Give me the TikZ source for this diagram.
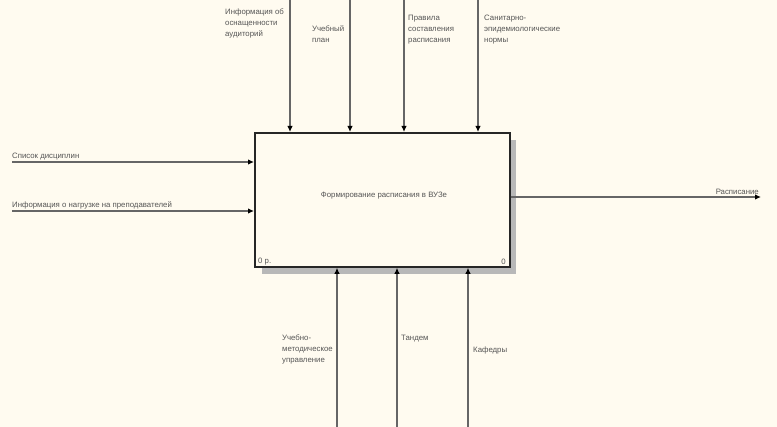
\documentclass[tikz,border=0pt]{standalone}
\usepackage{fontspec}
\setmainfont{Liberation Sans}
\usetikzlibrary{positioning,arrows.meta}
\definecolor{paper}{RGB}{255,251,240}
\definecolor{ink}{RGB}{85,85,85}
\tikzset{
  flow/.style={draw=ink!90, line width=1.7pt, -{Latex[length=6pt,width=5.5pt,black]}},
  lbl/.style={font=\fontsize{7.8}{11}\selectfont, text=ink, inner sep=0pt, align=left},
  activity/.style={draw=black!85, line width=1.8pt, fill=paper, minimum width=255pt, minimum height=134pt, inner sep=0pt},
  shadow/.style={fill=black!28}
}
\begin{document}
\begin{tikzpicture}[x=1pt,y=-1pt]
  \fill[paper] (0,0) rectangle (777,427);
  \useasboundingbox (0,0) rectangle (777,427);

  % activity box with its shadow
  \fill[shadow] (262,140) rectangle (516,274);
  \node[activity, anchor=north west] (act) at (254,132) {};
  \node[lbl] (title) at (384,196) {Формирование расписания в ВУЗе};
  \node[lbl, anchor=south west] (cost) at (258,265) {0 р.};
  \node[lbl, anchor=south east] (num) at (506,265) {0};

  % controls
  \coordinate (c1) at (290,0);
  \coordinate (c2) at (350,0);
  \coordinate (c3) at (404,0);
  \coordinate (c4) at (478,0);
  \foreach \c in {c1,c2,c3,c4}
    \draw[flow] (\c) -- (\c |- act.north);
  \node[lbl, anchor=north west] (l1) at (225,9) {Информация об\\оснащенности\\аудиторий};
  \node[lbl, anchor=north west] (l2) at (312,26) {Учебный\\план};
  \node[lbl, anchor=north west] (l3) at (408,15) {Правила\\составления\\расписания};
  \node[lbl, anchor=north west] (l4) at (484,15) {Санитарно-\\эпидемиологические\\нормы};

  % inputs
  \coordinate (i1) at (12,162);
  \coordinate (i2) at (12,211);
  \draw[flow] (i1) -- (i1 -| act.west);
  \draw[flow] (i2) -- (i2 -| act.west);
  \node[lbl, anchor=south west, above right=2pt and 0pt of i1] (li1) {Список дисциплин};
  \node[lbl, anchor=south west, above right=2pt and 0pt of i2] (li2) {Информация о нагрузке на преподавателей};

  % output
  \coordinate (o1) at (761,197);
  \draw[flow] (act.east |- o1) -- (o1);
  \node[lbl, anchor=south east, above left=2pt and 2pt of o1] (lo1) {Расписание};

  % mechanisms
  \coordinate (m1) at (337,427);
  \coordinate (m2) at (397,427);
  \coordinate (m3) at (468,427);
  \foreach \m in {m1,m2,m3}
    \draw[flow] (\m) -- (\m |- act.south);
  \node[lbl, anchor=north west] (lm1) at (282,335) {Учебно-\\методическое\\управление};
  \node[lbl, anchor=north west] (lm2) at (401,335) {Тандем};
  \node[lbl, anchor=north west] (lm3) at (473,347) {Кафедры};
\end{tikzpicture}
\end{document}
